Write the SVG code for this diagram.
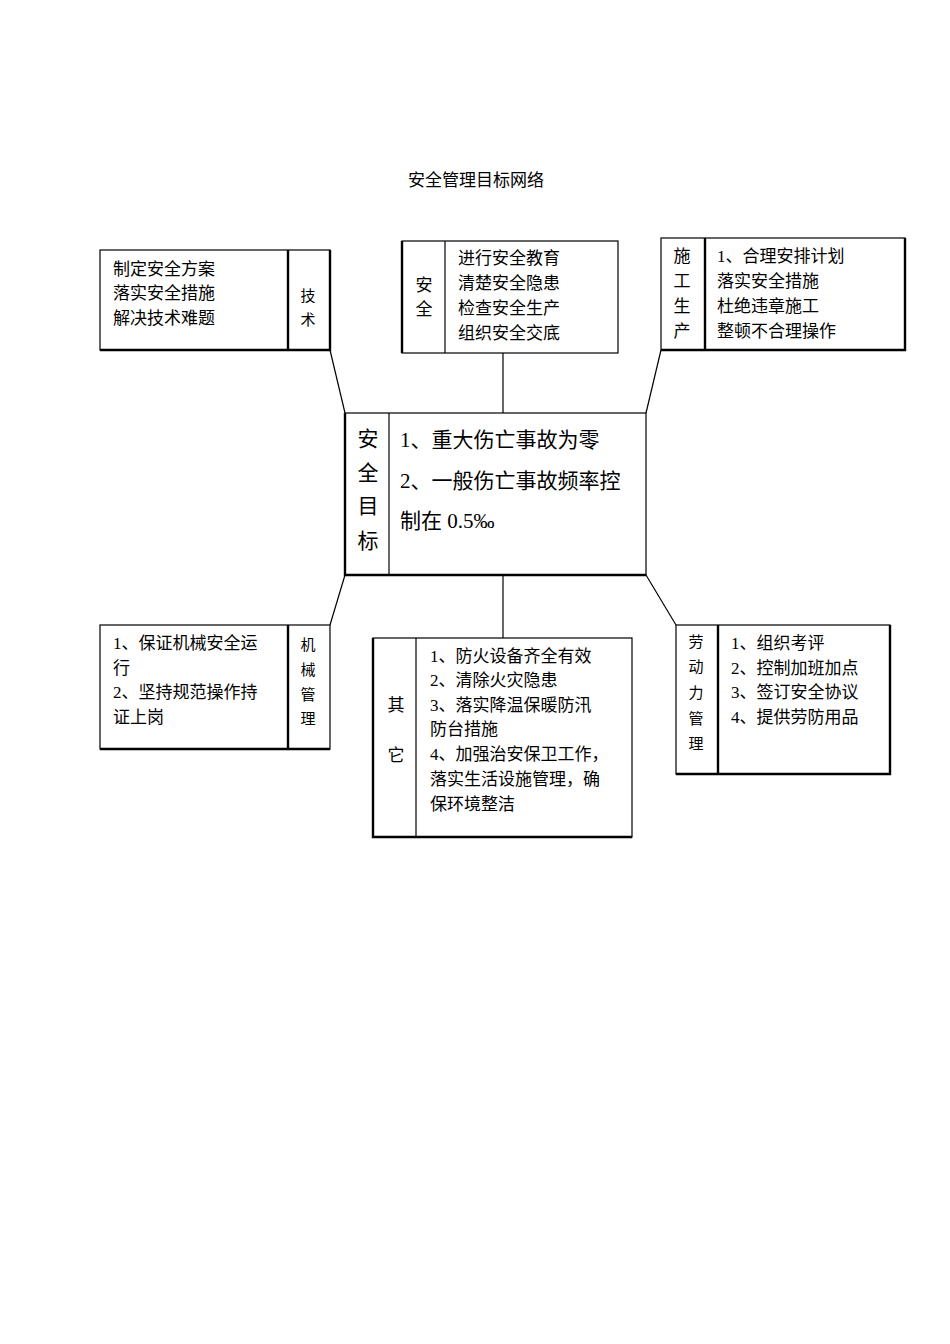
<svg xmlns="http://www.w3.org/2000/svg" width="950" height="1344" viewBox="0 0 950 1344">
<style>
text{font-family:"Liberation Serif","Noto Sans CJK SC",serif;fill:#000}
.t{font-size:17px}
.s{font-size:15px}
.b{font-size:21px}
rect{fill:#fff;stroke:#000;stroke-width:1.2}
line,polyline{stroke:#000;stroke-width:1.2;fill:none}
.sh{stroke-width:2.4}
</style>
<rect width="950" height="1344" style="stroke:none"/>
<text class="t" x="476" y="186" text-anchor="middle">安全管理目标网络</text>
<g id="connectors">
<line x1="330" y1="350" x2="345" y2="413"/>
<line x1="503" y1="353" x2="503" y2="413"/>
<line x1="661" y1="350" x2="646" y2="413"/>
<line x1="345" y1="575" x2="330" y2="625"/>
<line x1="503" y1="575" x2="503" y2="638"/>
<line x1="646" y1="575" x2="676" y2="625"/>
</g>
<g id="tech">
<rect x="100" y="250" width="230" height="100"/>
<polyline class="sh" points="100,350 330,350 330,250"/>
<line x1="288" y1="250" x2="288" y2="350" class="sh"/>
<text class="t" x="113" y="275">制定安全方案</text>
<text class="t" x="113" y="299">落实安全措施</text>
<text class="t" x="113" y="324">解决技术难题</text>
<text class="s" x="308" y="301" text-anchor="middle">技</text>
<text class="s" x="308" y="325" text-anchor="middle">术</text>
</g>
<g id="safety">
<rect x="402" y="241" width="216" height="112"/>
<line x1="402" y1="241" x2="402" y2="353" class="sh"/>
<line x1="445" y1="241" x2="445" y2="353"/>
<text class="t" x="424" y="291" text-anchor="middle">安</text>
<text class="t" x="424" y="315" text-anchor="middle">全</text>
<text class="t" x="458" y="264">进行安全教育</text>
<text class="t" x="458" y="289">清楚安全隐患</text>
<text class="t" x="458" y="314">检查安全生产</text>
<text class="t" x="458" y="339">组织安全交底</text>
</g>
<g id="construction">
<rect x="661" y="238" width="244" height="112"/>
<polyline class="sh" points="661,350 905,350 905,238"/>
<line x1="705" y1="238" x2="705" y2="350" class="sh"/>
<text class="t" x="682" y="262" text-anchor="middle">施</text>
<text class="t" x="682" y="287" text-anchor="middle">工</text>
<text class="t" x="682" y="312" text-anchor="middle">生</text>
<text class="t" x="682" y="337" text-anchor="middle">产</text>
<text class="t" x="717" y="262">1、合理安排计划</text>
<text class="t" x="717" y="287">落实安全措施</text>
<text class="t" x="717" y="312">杜绝违章施工</text>
<text class="t" x="717" y="337">整顿不合理操作</text>
</g>
<g id="goal">
<rect x="345" y="413" width="301" height="162"/>
<polyline class="sh" points="345,413 345,575 646,575"/>
<line x1="389" y1="413" x2="389" y2="575"/>
<text class="b" x="368" y="446" text-anchor="middle">安</text>
<text class="b" x="368" y="480" text-anchor="middle">全</text>
<text class="b" x="368" y="513" text-anchor="middle">目</text>
<text class="b" x="368" y="548" text-anchor="middle">标</text>
<text class="b" x="400" y="447">1、重大伤亡事故为零</text>
<text class="b" x="400" y="488">2、一般伤亡事故频率控</text>
<text class="b" x="400" y="528">制在 0.5‰</text>
</g>
<g id="machine">
<rect x="100" y="625" width="230" height="124"/>
<line x1="100" y1="749" x2="330" y2="749" class="sh"/>
<line x1="288" y1="625" x2="288" y2="749" class="sh"/>
<text class="t" x="113" y="649">1、保证机械安全运</text>
<text class="t" x="113" y="674">行</text>
<text class="t" x="113" y="698">2、坚持规范操作持</text>
<text class="t" x="113" y="723">证上岗</text>
<text class="s" x="308" y="650" text-anchor="middle">机</text>
<text class="s" x="308" y="675" text-anchor="middle">械</text>
<text class="s" x="308" y="700" text-anchor="middle">管</text>
<text class="s" x="308" y="724" text-anchor="middle">理</text>
</g>
<g id="other">
<rect x="373" y="638" width="259" height="199"/>
<polyline class="sh" points="373,638 373,837 632,837"/>
<line x1="416" y1="638" x2="416" y2="837"/>
<text class="t" x="396" y="711" text-anchor="middle">其</text>
<text class="t" x="396" y="761" text-anchor="middle">它</text>
<text class="t" x="430" y="662">1、防火设备齐全有效</text>
<text class="t" x="430" y="686">2、清除火灾隐患</text>
<text class="t" x="430" y="711">3、落实降温保暖防汛</text>
<text class="t" x="430" y="735">防台措施</text>
<text class="t" x="430" y="760">4、加强治安保卫工作，</text>
<text class="t" x="430" y="785">落实生活设施管理，确</text>
<text class="t" x="430" y="810">保环境整洁</text>
</g>
<g id="labor">
<rect x="676" y="625" width="214" height="149"/>
<polyline class="sh" points="676,774 890,774 890,625"/>
<line x1="718" y1="625" x2="718" y2="774" class="sh"/>
<text class="s" x="696" y="647" text-anchor="middle">劳</text>
<text class="s" x="696" y="672" text-anchor="middle">动</text>
<text class="s" x="696" y="698" text-anchor="middle">力</text>
<text class="s" x="696" y="724" text-anchor="middle">管</text>
<text class="s" x="696" y="749" text-anchor="middle">理</text>
<text class="t" x="731" y="649">1、组织考评</text>
<text class="t" x="731" y="674">2、控制加班加点</text>
<text class="t" x="731" y="698">3、签订安全协议</text>
<text class="t" x="731" y="723">4、提供劳防用品</text>
</g>
</svg>
